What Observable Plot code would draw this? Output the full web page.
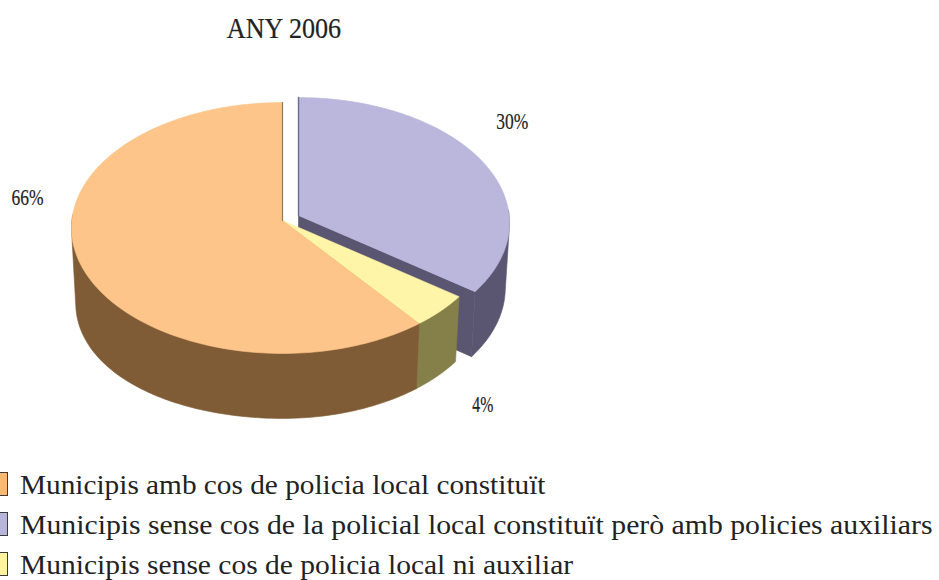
<!DOCTYPE html>
<html><head><meta charset="utf-8">
<script src="https://cdn.jsdelivr.net/npm/d3@7"></script>
<script src="https://cdn.jsdelivr.net/npm/@observablehq/plot@0.6"></script>
<style>
html,body{margin:0;padding:0;background:#fff;overflow:hidden}
body{width:939px;height:580px;font-family:"Liberation Serif",serif;color:#222}
#title{height:56px;box-sizing:border-box;padding-top:11px;text-align:center;width:568px;font-size:29px;line-height:34px;transform:scaleX(.9);transform-origin:284px 0;-webkit-text-stroke:.2px #222}
#chart{height:404px}
#chart svg{display:block}
#legend{height:120px;position:relative}
.row{position:absolute;left:0;height:24px;white-space:nowrap;font-size:27px;line-height:24px}
.sw{position:absolute;left:-16px;top:0;width:22px;height:22px;border:1px solid #3a3a3a}
.tx{position:absolute;left:20px;top:1px;transform-origin:0 0}
</style></head><body>
<div id="title"></div><div id="chart"></div><div id="legend"></div>
<script>
const titleText = "ANY 2006";
const legendNames = [
  "Municipis amb cos de policia local constituït",
  "Municipis sense cos de la policial local constituït però amb policies auxiliars",
  "Municipis sense cos de policia local ni auxiliar"
];
const legendColors = ["#fdb970", "#b9b5da", "#fff59d"];
// Shares of the circle as the wedges are actually drawn in the picture, clockwise from 12 o'clock
const drawnShares = [35, 4.4, 60.6];
const sliceLabels = ["30%", "4%", "66%"];
const topColors = ["#bbb6db", "#fff5a8", "#fdc589"];
const wallColors = ["#5a5671", "#85804a", "#7f5c36"];

// pie camera and layout
const rx = 210.6, ry = 125, persist = 0.0598, depth = 65, shrink = 0.98, sag = 10;
const cx = 282, cy = 220;
const explode = [[16, -5], [0, 0], [0, 0]];
const labelNudge = [[31, -39], [42, 94], [-52, -65]];
const legendFit = [525, 913, 553];

function project(angle, r, z, off) {
  const u = r * Math.sin(angle), v = -r * Math.cos(angle), w = 1 - persist * v;
  const X = rx * u / w, Y = ry * v / w;
  const extra = z && u < 0 ? sag * u * u : 0;
  return {x: cx + off[0] + X * (z ? shrink : 1), y: cy + off[1] + Y + (z ? depth + extra : 0)};
}
const turn = 2 * Math.PI / 100;
let acc = 0;
const slices = drawnShares.map((s, i) => {
  const a0 = acc * turn; acc += s; const a1 = acc * turn;
  return {a0, a1, off: explode[i], top: topColors[i], wall: wallColors[i], label: sliceLabels[i], nudge: labelNudge[i]};
});
const N = 160;
const angles = s => d3.range(0, N + 1).map(k => s.a0 + (s.a1 - s.a0) * k / N);
const face = (pts, fill) =>
  Plot.line([...pts, pts[0]], {x: "x", y: "y", fill, stroke: fill, strokeWidth: 0.6});

const marks = [];
for (const s of slices) {
  const apexT = project(0, 0, 0, s.off), apexB = project(0, 0, 1, s.off);
  const endT = project(s.a1, 1, 0, s.off), endB = project(s.a1, 1, 1, s.off);
  marks.push(face([apexT, endT, endB, apexB], s.wall));
  // outer wall: hull of the front-facing rims; its inner side is covered by the top face
  const front = angles(s).filter(a => -Math.cos(a) > -0.05);
  const rim = front.flatMap(a => [project(a, 1, 0, s.off), project(a, 1, 1, s.off)]);
  const hull = d3.polygonHull(rim.map(p => [p.x, p.y])).map(([x, y]) => ({x, y}));
  marks.push(face(hull, s.wall));
  marks.push(face([apexT, ...angles(s).map(a => project(a, 1, 0, s.off))], s.top));
}
// thin visible radial edges either side of the gap
const edge = (s, a, color, w) => Plot.line([project(0, 0, 0, s.off), project(a, 1, 0, s.off)], {x: "x", y: "y", stroke: color, strokeWidth: w});
marks.push(edge(slices[0], 0, "#6f6b92", 1.4));
marks.push(edge(slices[2], 2 * Math.PI, "#8f7b5c", 1.2));
// labels
for (const s of slices) {
  const mid = (s.a0 + s.a1) / 2;
  marks.push(Plot.text([project(mid, 1, 0, s.off)], {
    x: "x", y: "y", text: () => s.label, dx: s.nudge[0], dy: s.nudge[1],
    fontSize: 23, fontFamily: "Liberation Serif", fill: "#222", stroke: "#222", strokeWidth: 0.2,
    textAnchor: "middle", lineAnchor: "middle"
  }));
}

const plot = Plot.plot({
  width: 939, height: 404, margin: 0,
  x: {domain: [0, 939], range: [0, 939], axis: null},
  y: {domain: [56, 460], range: [0, 404], axis: null},
  marks
});
// condense the percentage labels to the width they have in the picture
plot.querySelectorAll("text").forEach(t => {
  t.setAttribute("textLength", t.textContent === "4%" ? 21 : 32);
  t.setAttribute("lengthAdjust", "spacingAndGlyphs");
});
document.getElementById("chart").append(plot);
document.getElementById("title").textContent = titleText;
const leg = document.getElementById("legend");
legendNames.forEach((n, i) => {
  const r = document.createElement("div"); r.className = "row"; r.style.top = (12 + 40 * i) + "px";
  const sw = document.createElement("div"); sw.className = "sw"; sw.style.background = legendColors[i];
  const tx = document.createElement("div"); tx.className = "tx"; tx.textContent = n;
  r.append(sw, tx); leg.append(r);
  tx.style.transform = `scaleX(${legendFit[i] / tx.offsetWidth})`;
});
</script></body></html>
